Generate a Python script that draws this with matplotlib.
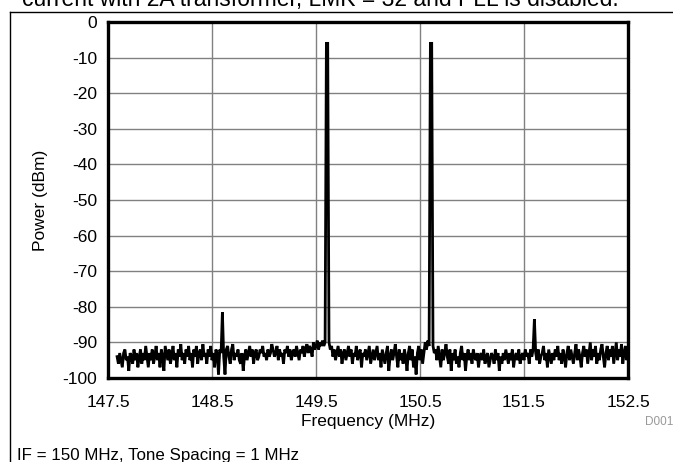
import numpy as np
import matplotlib
matplotlib.use('Agg')
import matplotlib.pyplot as plt
from matplotlib.lines import Line2D

plt.rcParams['font.family'] = ['Liberation Sans', 'DejaVu Sans']
plt.rcParams['axes.unicode_minus'] = False

# spectrum, 0.0125 MHz steps from 147.5875 MHz
freq_start = 147.5875
freq_step = 0.0125
power_dbm = [
    -94, -96, -93, -95, -97, -93, -92, -95, -94, -98, -93, -94, -96, -92, -95, -93, -97, -94, -92, -96,
    -93, -95, -91, -94, -97, -93, -95, -92, -96, -94, -91, -95, -93, -97, -92, -94, -98, -91, -93, -95,
    -92, -96, -94, -91, -95, -93, -97, -92, -94, -90.5, -95, -93, -96, -92, -94, -91, -95, -93, -97, -92,
    -94, -91, -96, -93, -92, -95, -90.5, -94, -93, -96, -92, -94, -91, -95, -93, -97, -92, -93, -99, -92,
    -93, -81.5, -94, -99, -92, -91, -94, -96, -92, -90.5, -95, -93, -94, -92, -95, -96, -93, -98, -94, -92,
    -95, -93, -91, -94, -92, -96, -93, -92, -95, -94, -92, -93, -91, -94, -93, -95, -92, -94, -93, -90.5,
    -92, -94, -93, -91, -95, -92, -94, -93, -96, -92, -93, -91, -94, -92, -95, -93, -92, -94, -91, -93,
    -95, -92, -93, -91, -94, -92, -90.5, -93, -91, -92, -94, -90, -92, -91, -89.5, -92, -90, -91, -89.5, -91,
    -90, -6, -6, -90, -92, -91, -94, -92, -95, -93, -91, -94, -92, -96, -93, -92, -95, -93, -91, -94,
    -92, -96, -93, -94, -91, -95, -93, -92, -97, -93, -94, -92, -95, -93, -91, -96, -94, -92, -95, -93,
    -91, -95, -93, -97, -92, -94, -96, -93, -91, -98, -94, -92, -95, -93, -90.5, -94, -97, -92, -95, -93,
    -96, -92, -94, -98, -93, -91, -95, -92, -97, -94, -99, -93, -91, -95, -92, -96, -93, -90, -92, -89.5,
    -91, -6, -6, -91, -93, -92, -95, -91, -94, -97, -92, -95, -93, -90.5, -94, -96, -92, -98, -93, -95,
    -92, -96, -94, -97, -93, -91, -95, -93, -98, -94, -92, -95, -93, -96, -92, -94, -95, -93, -97, -94,
    -93, -95, -92, -96, -94, -93, -97, -95, -93, -94, -96, -92, -95, -93, -98, -94, -96, -93, -95, -92,
    -94, -96, -93, -95, -92, -97, -94, -93, -95, -92, -96, -94, -93, -95, -92, -94, -93, -96, -92, -94,
    -92, -83.5, -93, -95, -92, -96, -94, -93, -91, -95, -93, -97, -92, -94, -96, -93, -95, -92, -94, -91,
    -95, -93, -96, -92, -94, -97, -93, -91, -95, -92, -94, -96, -93, -90.5, -95, -92, -94, -97, -93, -91,
    -94, -92, -96, -93, -90, -95, -92, -94, -91, -96, -93, -95, -92, -90.5, -94, -97, -93, -91, -95, -92,
    -94, -91, -96, -93, -90, -95, -92, -94, -90.5, -96, -93, -91, -95, -93,
]
freq_mhz = [round(freq_start + i * freq_step, 4) for i in range(len(power_dbm))]

x_ticks = [147.5, 148.5, 149.5, 150.5, 151.5, 152.5]
y_ticks = [0, -10, -20, -30, -40, -50, -60, -70, -80, -90, -100]

fig = plt.figure(figsize=(6.73, 4.62), dpi=100)
ax = fig.add_axes([108 / 673, 1 - 378 / 462, 520 / 673, 356 / 462])

ax.plot(freq_mhz, power_dbm, color='black', lw=2.0, solid_joinstyle='miter')

ax.set_xlim(147.5, 152.5)
ax.set_ylim(-100, 0)
ax.set_xticks(x_ticks)
ax.set_xticklabels([str(t) for t in x_ticks])
ax.set_yticks(y_ticks)
ax.set_yticklabels([str(t) for t in y_ticks])
ax.tick_params(length=0, labelsize=12.5)
ax.tick_params(axis='x', pad=12)
ax.tick_params(axis='y', pad=8)
ax.grid(True, color='#808080', lw=1)
ax.set_axisbelow(True)
for s in ax.spines.values():
    s.set_linewidth(2.4)

ax.set_xlabel('Frequency (MHz)', fontsize=12.5, labelpad=3)
ax.set_ylabel('Power (dBm)', fontsize=12.5, labelpad=10)

fig.text(645 / 673, 1 - 425 / 462, 'D001', fontsize=8.5, color='#999999')
fig.text(17 / 673, 1 - 460 / 462, 'IF = 150 MHz, Tone Spacing = 1 MHz',
         fontsize=12.2, va='baseline')
fig.text(22 / 673, 1 - 6 / 462,
         'current with 2A transformer, LMK = 32 and PLL is disabled.',
         fontsize=16.5, va='baseline')

# frame around the figure panel
fig.add_artist(Line2D([10 / 673, 1], [1 - 12 / 462, 1 - 12 / 462],
                      transform=fig.transFigure, color='black', lw=1))
fig.add_artist(Line2D([10 / 673, 10 / 673], [1 - 12 / 462, 0],
                      transform=fig.transFigure, color='black', lw=1))

fig.savefig('out.png', dpi=100)
